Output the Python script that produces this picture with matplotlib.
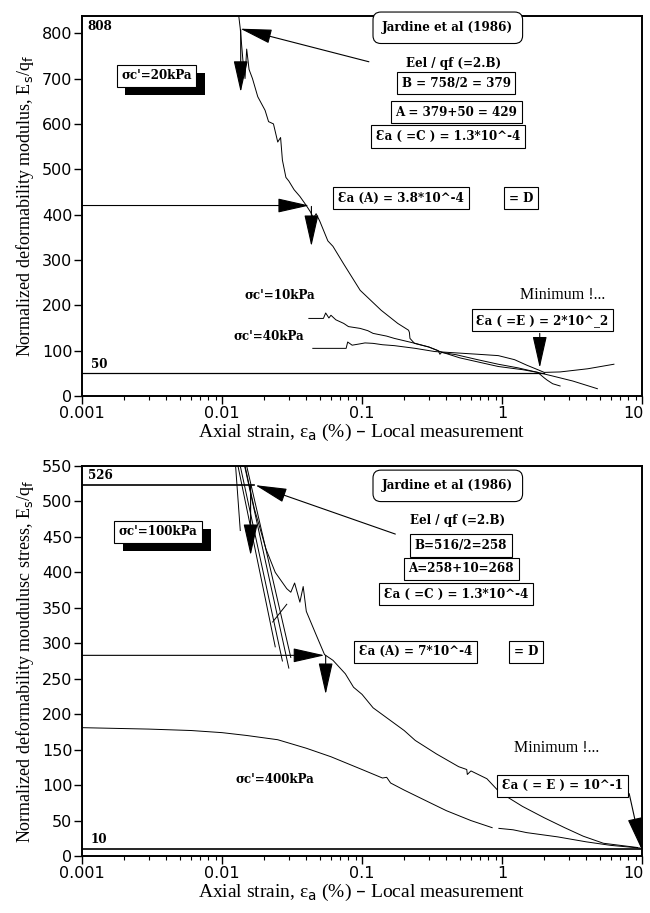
import matplotlib
matplotlib.use("Agg")
import matplotlib.pyplot as plt
import matplotlib.patheffects as pe
import matplotlib.transforms as mtransforms

# --- data, top panel ---
x20 = [0.0128, 0.0135, 0.0141, 0.0146, 0.0150, 0.0156, 0.0165, 0.0180, 0.0195, 0.0203, 0.0215,
       0.0233, 0.0250, 0.0262, 0.0270, 0.0286, 0.0300, 0.0327, 0.0360, 0.0400, 0.0430, 0.0450,
       0.0470, 0.0500, 0.0570, 0.0620, 0.0740, 0.0970, 0.1370, 0.1800, 0.2150, 0.2180, 0.2200,
       0.2370, 0.3000, 0.3600, 0.5000, 0.9400, 1.4000, 1.8000, 2.0000, 2.1000, 2.3000, 2.6000]
y20 = [870, 810, 740, 700, 765, 720, 700, 660, 640, 630, 605, 600, 560, 570, 520, 482, 474, 455,
       440, 420, 405, 392, 402, 385, 342, 330, 291, 233, 189, 160, 145, 140, 127, 116, 108, 98,
       84, 65, 58, 52, 40, 35, 27, 22]

x10 = [0.0417, 0.0530, 0.0550, 0.0580, 0.0600, 0.0650, 0.0740, 0.0800, 0.0970, 0.1100, 0.1200,
       0.1500, 0.1700, 0.2400, 0.3000, 0.3500, 0.3600, 0.3700, 0.4700, 0.6700, 0.9400, 1.3000,
       1.8000, 2.3000, 3.2000, 4.8000]
y10 = [171, 171, 183, 172, 178, 168, 160, 153, 149, 144, 138, 132, 127, 116, 108, 100, 92, 96,
       91, 80, 70, 62, 52, 44, 33, 16]

x40 = [0.0445, 0.0770, 0.0790, 0.0850, 0.0970, 0.1050, 0.1200, 0.1400, 0.1700, 0.2400, 0.3300,
       0.4700, 0.6700, 0.9400, 1.2300, 1.5000, 1.8000, 2.0000, 2.6000, 4.1000, 6.3000]
y40 = [105, 105, 119, 112, 115, 117, 116, 113, 111, 105, 98, 95, 92, 89, 80, 68, 58, 52, 53, 60, 70]

# --- data, bottom panel ---
x100 = [0.0146, 0.0170, 0.0206, 0.0240, 0.0290, 0.0310, 0.0330, 0.0360, 0.0380, 0.0400, 0.0470,
        0.0540, 0.0620, 0.0760, 0.0870, 0.1000, 0.1200, 0.1500, 0.2000, 0.2400, 0.3400, 0.4900,
        0.5600, 0.5650, 0.6000, 0.7800, 0.9600, 1.4000, 2.0000, 2.8000, 3.8000, 5.3000, 9.3000]
y100 = [550, 490, 433, 400, 377, 372, 385, 358, 380, 345, 312, 284, 276, 257, 238, 228, 209, 195,
        177, 163, 144, 126, 122, 115, 120, 109, 90, 70, 54, 40, 28, 18, 12]
# unload / reload loops of the 100 kPa test
loops_x = [[0.0125, 0.0135], [0.0130, 0.0240], [0.0135, 0.0270], [0.0145, 0.0300],
           [0.0150, 0.0310], [0.0230, 0.0290]]
loops_y = [[550, 459], [550, 295], [550, 275], [550, 265], [550, 280], [330, 355]]

x400 = [0.001, 0.003, 0.006, 0.010, 0.015, 0.025, 0.040, 0.060, 0.100, 0.140, 0.150, 0.160,
        0.200, 0.300, 0.400, 0.600, 0.850]
y400 = [181, 179, 177, 174, 170, 164, 152, 140, 122, 110, 111, 103, 93, 76, 64, 50, 40]
x400b = [0.95, 1.2, 1.5, 2.5, 4.0, 6.0, 10.0]
y400b = [39, 37, 33, 27, 20, 15, 11]

xticks = [0.001, 0.01, 0.1, 1, 10]
xticklabels = ["0.001", "0.01", "0.1", "1", "10"]

ann = dict(family="DejaVu Serif", fontstretch="condensed", fontsize=9.5, fontweight="bold")
box = dict(boxstyle="square,pad=0.35", fc="white", ec="black", lw=0.8)
rbox = dict(boxstyle="round,pad=0.7,rounding_size=0.6", fc="white", ec="black", lw=0.8)
arr = dict(arrowstyle="-|>,head_length=2.0,head_width=0.45", color="black", lw=0.8,
           shrinkA=0, shrinkB=0)


def setup(ax, ymax, ystep, ylabel):
    ax.set_xscale("log")
    ax.set_xlim(0.001, 10)
    ax.set_ylim(0, ymax)
    ax.set_yticks(range(0, ymax + 1, ystep))
    ax.set_xticks(xticks)
    ax.set_xticklabels(xticklabels)
    ax.tick_params(which="major", direction="out", length=6, width=1, labelsize=11.5, pad=1)
    ax.tick_params(which="minor", direction="out", length=3, width=0.8)
    for s in ax.spines.values():
        s.set_linewidth(1.4)
    ax.set_xlabel("Axial strain, ε$_\\mathrm{a}$ (%) – Local measurement",
                  family="Liberation Serif", fontsize=14, labelpad=1)
    ax.set_ylabel(ylabel, family="Liberation Serif", fontsize=13, labelpad=4)
    for t in ax.get_xticklabels() + ax.get_yticklabels():
        t.set_family("DejaVu Sans")
    # keep the "10" label inside the figure
    last = ax.get_xticklabels()[-1]
    last.set_transform(last.get_transform() +
                       mtransforms.ScaledTranslation(-6 / 72, 0, ax.figure.dpi_scale_trans))


def shadow_box(ax, x, y, s):
    t = ax.text(x, y, s, ha="center", va="center", bbox=box, **ann)
    t.get_bbox_patch().set_path_effects(
        [pe.SimplePatchShadow(offset=(6, -6), shadow_rgbFace="black", alpha=1), pe.Normal()])


fig = plt.figure(figsize=(6.5, 9.13), dpi=100)
ax1 = fig.add_axes([0.1262, 0.5663, 0.8615, 0.4162])
ax2 = fig.add_axes([0.1262, 0.0624, 0.8615, 0.4272])

# ---- top panel ----
setup(ax1, 838, 100, "Normalized deformability modulus, E$_\\mathrm{s}$/q$_\\mathrm{f}$")
ax1.plot(x20, y20, color="black", lw=0.7)
ax1.plot(x10, y10, color="black", lw=0.7)
ax1.plot(x40, y40, color="black", lw=0.7)
ax1.plot([0.001, 2.0], [50, 50], color="black", lw=0.9)

ax1.text(0.0011, 815, "808", ha="left", va="center", **ann)
ax1.text(0.00115, 70, "50", ha="left", va="center", **ann)
shadow_box(ax1, 0.0034, 706, "σc'=20kPa")
ax1.text(0.41, 812, "Jardine et al (1986)", ha="center", va="center", bbox=rbox, **ann)
ax1.text(0.45, 733, "Eel / qf (=2.B)", ha="center", va="center", **ann)
ax1.text(0.47, 690, "B = 758/2 = 379", ha="center", va="center", bbox=box, **ann)
ax1.text(0.47, 626, "A = 379+50 = 429", ha="center", va="center", bbox=box, **ann)
ax1.text(0.41, 572, "Ɛa ( =C ) = 1.3*10^-4", ha="center", va="center", bbox=box, **ann)
ax1.text(0.19, 436, "Ɛa (A) = 3.8*10^-4", ha="center", va="center", bbox=box, **ann)
ax1.text(1.36, 436, "= D", ha="center", va="center", bbox=box, **ann)
ax1.text(0.026, 222, "σc'=10kPa", ha="center", va="center", **ann)
ax1.text(0.0215, 131, "σc'=40kPa", ha="center", va="center", **ann)
ax1.text(2.7, 222, "Minimum !...", ha="center", va="center",
         family="Liberation Serif", fontsize=11.5)
ax1.text(1.95, 167, "Ɛa ( =E ) = 2*10^_2", ha="center", va="center", bbox=box, **ann)

ax1.annotate("", xy=(0.0135, 810), xytext=(0.112, 737), arrowprops=arr)
ax1.annotate("", xy=(0.0136, 670), xytext=(0.0136, 808), arrowprops=arr)
ax1.annotate("", xy=(0.042, 420), xytext=(0.001, 420), arrowprops=arr)
ax1.annotate("", xy=(0.0435, 330), xytext=(0.0435, 418), arrowprops=arr)
ax1.annotate("", xy=(1.86, 62), xytext=(1.86, 138), arrowprops=arr)

# ---- bottom panel ----
setup(ax2, 550, 50, "Normalized deformability moudulusc stress, E$_\\mathrm{s}$/q$_\\mathrm{f}$")
ax2.plot(x100, y100, color="black", lw=0.7)
for lx, ly in zip(loops_x, loops_y):
    ax2.plot(lx, ly, color="black", lw=0.7)
ax2.plot(x400, y400, color="black", lw=0.7)
ax2.plot(x400b, y400b, color="black", lw=0.7)
ax2.plot([0.001, 10], [10, 10], color="black", lw=1.2)
ax2.plot([0.001, 0.017], [523, 523], color="black", lw=1.2)

ax2.text(0.0011, 537, "526", ha="left", va="center", **ann)
ax2.text(0.00115, 24, "10", ha="left", va="center", **ann)
shadow_box(ax2, 0.0035, 457, "σc'=100kPa")
ax2.text(0.41, 522, "Jardine et al (1986)", ha="center", va="center", bbox=rbox, **ann)
ax2.text(0.48, 473, "Eel / qf (=2.B)", ha="center", va="center", **ann)
ax2.text(0.51, 438, "B=516/2=258", ha="center", va="center", bbox=box, **ann)
ax2.text(0.51, 405, "A=258+10=268", ha="center", va="center", bbox=box, **ann)
ax2.text(0.47, 369, "Ɛa ( =C ) = 1.3*10^-4", ha="center", va="center", bbox=box, **ann)
ax2.text(0.24, 288, "Ɛa (A) = 7*10^-4", ha="center", va="center", bbox=box, **ann)
ax2.text(1.49, 288, "= D", ha="center", va="center", bbox=box, **ann)
ax2.text(0.024, 108, "σc'=400kPa", ha="center", va="center", **ann)
ax2.text(2.45, 152, "Minimum !...", ha="center", va="center",
         family="Liberation Serif", fontsize=11.5)
ax2.text(2.7, 99, "Ɛa ( = E ) = 10^-1", ha="center", va="center", bbox=box, **ann)

ax2.annotate("", xy=(0.0173, 523), xytext=(0.173, 454), arrowprops=arr)
ax2.annotate("", xy=(0.016, 424), xytext=(0.016, 523), arrowprops=arr)
ax2.annotate("", xy=(0.054, 283), xytext=(0.001, 283), arrowprops=arr)
ax2.annotate("", xy=(0.055, 228), xytext=(0.055, 283), arrowprops=arr)
ax2.annotate("", xy=(9.9, 10), xytext=(8.1, 88), arrowprops=arr)

fig.savefig("out.png", dpi=100)
